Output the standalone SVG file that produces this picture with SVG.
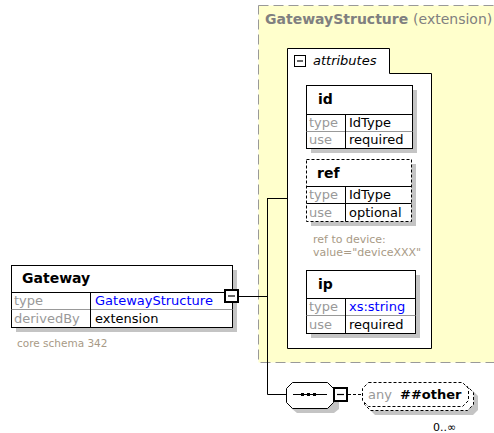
<svg xmlns="http://www.w3.org/2000/svg" width="494" height="433" viewBox="0 0 494 433">
<style>
text{font-family:"DejaVu Sans","Liberation Sans",sans-serif;font-size:13px;fill:#000}
.hdr{font-weight:bold;font-size:14px}
.lbl{fill:#999}
.blue{fill:#0000ff}
.ann{fill:#a89a86;font-size:11px}
.box{fill:#fff;stroke:#000;stroke-width:1}
.dbox{fill:#fff;stroke:#000;stroke-width:1;stroke-dasharray:3,2}
.sh{fill:#c4c4c4}
.ln{stroke:#000;stroke-width:1;fill:none}
.gl{stroke:#999;stroke-width:1}
.mb{fill:#fff;stroke:#000;stroke-width:2}
</style>
<rect width="494" height="433" fill="#fff"/>

<g id="GatewayStructure">
<rect x="258.5" y="5.5" width="240" height="357" fill="#ffffcc" stroke="#999" stroke-dasharray="10,5"/>
<text x="265" y="24" style="font-weight:bold;font-size:14px;fill:#808080">GatewayStructure <tspan style="font-weight:normal;fill:#808080">(extension)</tspan></text>
</g>

<g id="attributes">
<path d="M287.5 48.5H389.5V73.5H431.5V348.5H287.5Z" class="box"/>
<rect x="294.5" y="55.5" width="11" height="11" fill="#fff" stroke="#000"/>
<line x1="297" y1="61" x2="303" y2="61" stroke="#000" stroke-width="1.2"/>
<text x="313" y="65" style="font-style:italic;font-size:13px">attributes</text>
</g>

<g id="id">
<rect x="311" y="90" width="106" height="63" class="sh"/>
<rect x="306.5" y="85.5" width="106" height="63" class="box"/>
<line x1="306.5" y1="114.5" x2="412.5" y2="114.5" class="ln"/>
<line x1="306.5" y1="131.5" x2="412.5" y2="131.5" class="gl"/>
<line x1="345.5" y1="114.5" x2="345.5" y2="148.5" class="ln"/>
<text x="318" y="104" class="hdr">id</text>
<text x="309" y="127" class="lbl">type</text><text x="349" y="127">IdType</text>
<text x="309" y="144" class="lbl">use</text><text x="349" y="144">required</text>
</g>

<g id="ref">
<rect x="311" y="164" width="105" height="62" class="sh"/>
<rect x="306.5" y="159.5" width="105" height="62" class="dbox"/>
<line x1="306.5" y1="186.5" x2="411.5" y2="186.5" class="ln"/>
<line x1="306.5" y1="203.5" x2="411.5" y2="203.5" class="ln"/>
<line x1="345.5" y1="186.5" x2="345.5" y2="221.5" class="ln"/>
<text x="317" y="178" class="hdr">ref</text>
<text x="309" y="199" class="lbl">type</text><text x="349" y="199">IdType</text>
<text x="309" y="217" class="lbl">use</text><text x="349" y="217">optional</text>
<text x="313" y="243" class="ann">ref to device:</text>
<text x="313" y="256" class="ann">value="deviceXXX"</text>
</g>

<g id="ip">
<rect x="311" y="275" width="109" height="63" class="sh"/>
<rect x="306.5" y="270.5" width="109" height="63" class="box"/>
<line x1="306.5" y1="298.5" x2="415.5" y2="298.5" class="ln"/>
<line x1="306.5" y1="315.5" x2="415.5" y2="315.5" class="gl"/>
<line x1="345.5" y1="298.5" x2="345.5" y2="333.5" class="ln"/>
<text x="318" y="289" class="hdr">ip</text>
<text x="309" y="311" class="lbl">type</text><text x="349" y="311" class="blue">xs:string</text>
<text x="309" y="329" class="lbl">use</text><text x="349" y="329">required</text>
</g>

<g id="Gateway">
<rect x="16" y="270" width="221" height="62" class="sh"/>
<rect x="11.5" y="265.5" width="221" height="62" class="box"/>
<line x1="11.5" y1="292.5" x2="232.5" y2="292.5" class="ln"/>
<line x1="11.5" y1="309.5" x2="232.5" y2="309.5" class="gl"/>
<line x1="90.5" y1="292.5" x2="90.5" y2="327.5" class="ln"/>
<text x="22" y="283" class="hdr">Gateway</text>
<text x="14" y="305" class="lbl">type</text><text x="95" y="305" class="blue">GatewayStructure</text>
<text x="14" y="323" class="lbl">derivedBy</text><text x="95" y="323">extension</text>
<text x="17" y="347" class="ann" style="font-size:10.5px">core schema 342</text>
<rect x="225" y="290" width="13" height="12" class="mb"/>
<line x1="228" y1="296" x2="235" y2="296" stroke="#000" stroke-width="1.2"/>
</g>

<g id="connectors">
<path d="M239 296.5H267.5M267.5 198V394.5M267.5 198.5H287M267.5 394.5H286" class="ln"/>
<line x1="348" y1="394.5" x2="362" y2="394.5" stroke="#000" stroke-dasharray="3,2"/>
</g>

<g id="sequence">
<path d="M297 390H334L339 395V409L334 413H297L291 408V395Z" class="sh"/>
<path d="M292.5 382.5H327.5L333.5 388.5V402.5L327.5 408.5H292.5L286.5 402.5V388.5Z" class="box"/>
<line x1="293" y1="394.5" x2="327" y2="394.5" class="ln"/>
<rect x="301" y="393" width="3" height="3" fill="#000"/>
<rect x="307" y="393" width="3" height="3" fill="#000"/>
<rect x="313" y="393" width="3" height="3" fill="#000"/>
<rect x="334" y="388" width="13" height="13" class="mb"/>
<line x1="337" y1="394.5" x2="344" y2="394.5" stroke="#000" stroke-width="1.2"/>
</g>

<g id="any">
<path d="M375 391H473L478 396V410L473 415H375L370 410V396Z" class="sh"/>
<path d="M370.5 386.5H467.5L473.5 392.5V404.5L467.5 410.5H370.5L364.5 404.5V392.5Z" fill="#fff" stroke="#000" stroke-dasharray="3,2"/>
<path d="M368.5 382.5H462.5L468.5 388.5V400.5L462.5 406.5H368.5L362.5 400.5V388.5Z" fill="#fff" stroke="#000" stroke-dasharray="3,2"/>
<text x="368" y="399" class="lbl">any</text>
<text x="400" y="399" style="font-weight:bold;font-size:13px">##other</text>
<text x="433" y="431" style="font-size:11px">0..∞</text>
</g>
</svg>
